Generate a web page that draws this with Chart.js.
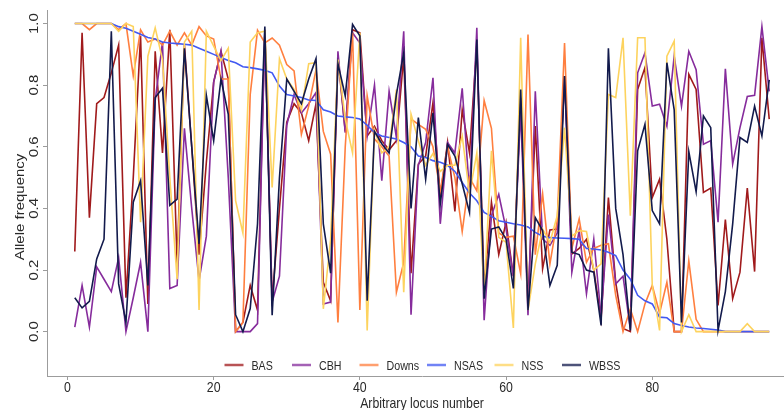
<!DOCTYPE html>
<html>
<head>
<meta charset="utf-8">
<script src="https://cdn.jsdelivr.net/npm/chart.js@4.4.1/dist/chart.umd.min.js"></script>
<style>
  html, body { margin: 0; padding: 0; background: #fff; overflow: hidden; }
  #wrap { width: 800px; height: 410px; }
</style>
</head>
<body>
<div id="wrap"><canvas id="freqChart" width="800" height="410"></canvas></div>
<script>
// locus index along the x axis
const loci = Array.from({ length: 96 }, (_, i) => i + 1);

const populations = ['BAS', 'CBH', 'Downs', 'NSAS', 'NSS', 'WBSS'];
const lineColors = ['#a01a1c', '#862c9c', '#ff7f3f', '#4259f2', '#fdd35e', '#121a4c'];

const basFreq = [0.26,0.97,0.37,0.74,0.76,0.84,0.93,0.11,0.5,0.96, 0.09,0.91,0.58,0.98,0.22,0.93,0.6,0.25,0.55,0.81,
  0.91,0.82,0.0,0.03,0.15,0.07,0.98,0.1,0.4,0.68, 0.74,0.71,0.62,0.74,0.16,0.1,0.89,0.65,0.98,0.97,
  0.635,0.667,0.62,0.59,0.62,0.894,0.19,0.544,0.57,0.743, 0.44,0.614,0.39,0.72,0.58,0.93,0.14,0.42,0.25,0.355,
  0.18,0.76,0.09,0.667,0.204,0.33,0.333,0.83,0.252,0.27, 0.3,0.2,0.04,0.435,0.16,0.01,0.0,0.786,0.857,0.435,
  0.495,0.30,0.0,0.0,0.835,0.786,0.452,0.466,0.085,0.364, 0.107,0.193,0.466,0.195,0.954,0.69];

const cbhFreq = [0.015,0.15,0.015,0.21,0.17,0.13,0.24,0.0,0.11,0.225, 0.0,0.75,0.94,0.14,0.15,0.66,0.4,0.166,0.31,0.81,
  0.91,0.5,0.0,0.0,0.0,0.026,0.97,0.096,0.18,0.67, 0.77,0.71,0.74,0.776,0.09,0.096,0.91,0.646,0.97,0.937,
  0.635,0.80,0.49,0.78,0.63,0.975,0.055,0.54,0.614,0.824, 0.35,0.614,0.58,0.79,0.45,0.986,0.037,0.376,0.446,0.333,
  0.18,0.72,0.053,0.78,0.3,0.28,0.32,0.83,0.193,0.328, 0.123,0.3,0.05,0.38,0.155,0.18,0.01,0.84,0.905,0.732,
  0.738,0.667,0.894,0.732,0.91,0.85,0.608,0.62,0.355,0.853, 0.544,0.662,0.763,0.767,0.99,0.78];

const downsFreq = [1.0,1.0,0.98,1.0,1.0,1.0,0.98,1.0,0.83,0.98, 0.94,0.95,0.93,0.975,0.93,0.97,0.93,0.99,0.96,0.95,
  0.82,0.82,0.0,0.03,0.77,0.978,0.937,0.953,0.93,0.867, 0.846,0.64,0.732,0.85,0.65,0.576,0.03,0.6,0.97,0.07,
  0.765,0.625,0.6,0.57,0.128,0.225,0.69,0.673,0.657,0.60, 0.457,0.6,0.5,0.325,0.5,0.457,0.75,0.66,0.32,0.306,
  0.31,0.188,0.964,0.25,0.447,0.22,0.36,0.937,0.27,0.366, 0.225,0.27,0.28,0.285,0.118,0.0,0.074,0.0,0.09,0.15,
  0.06,0.16,0.0,0.0,0.23,0.04,0.0,0.0,0.0,0.0, 0.0,0.0,0.0,0.0,0.0,0.0];

const nsasFreq = [1.0,1.0,1.0,1.0,1.0,1.0,0.99,0.985,0.975,0.965, 0.955,0.95,0.94,0.937,0.935,0.933,0.93,0.92,0.91,0.9,
  0.89,0.88,0.873,0.86,0.857,0.853,0.848,0.84,0.797,0.77, 0.765,0.76,0.752,0.75,0.72,0.713,0.70,0.697,0.695,0.69,
  0.67,0.646,0.635,0.63,0.625,0.614,0.6,0.57,0.565,0.555, 0.55,0.54,0.52,0.484,0.45,0.425,0.387,0.374,0.36,0.355,
  0.35,0.346,0.34,0.322,0.31,0.305,0.304,0.303,0.302,0.3, 0.27,0.268,0.265,0.258,0.247,0.2,0.17,0.118,0.1,0.09,
  0.047,0.045,0.026,0.02,0.015,0.012,0.01,0.008,0.005,0.0, 0.0,0.0,0.0,0.0,0.0,0.0];

const nssFreq = [1.0,1.0,1.0,1.0,1.0,1.0,0.975,1.0,0.99,0.355, 0.894,0.986,0.883,0.5,0.17,0.94,0.975,0.07,0.975,0.927,
  0.88,0.92,0.425,0.32,0.94,0.97,0.975,0.468,0.886,0.82, 0.786,0.72,0.87,0.873,0.074,0.3,0.883,0.69,0.58,0.97,
  0.004,0.655,0.58,0.6,0.786,0.128,0.706,0.62,0.54,0.578, 0.52,0.54,0.54,0.635,0.447,0.58,0.128,0.587,0.306,0.29,
  0.012,0.954,0.07,0.22,0.333,0.29,0.376,0.662,0.31,0.328, 0.325,0.2,0.22,0.77,0.76,0.954,0.376,0.954,0.954,0.15,
  0.004,0.894,0.943,0.0,0.055,0.0,0.0,0.0,0.0,0.0, 0.0,0.0,0.026,0.0,0.0,0.0];

const wbssFreq = [0.11,0.077,0.098,0.236,0.30,0.975,0.155,0.03,0.42,0.49, 0.15,0.76,0.79,0.41,0.43,0.92,0.6,0.285,0.767,0.62,
  0.82,0.705,0.055,0.0,0.075,0.35,0.99,0.053,0.5,0.82, 0.78,0.74,0.82,0.886,0.35,0.19,0.87,0.765,0.997,0.96,
  0.10,0.65,0.61,0.58,0.77,0.905,0.40,0.695,0.495,0.71, 0.414,0.608,0.57,0.48,0.387,0.948,0.107,0.333,0.34,0.30,
  0.14,0.786,0.07,0.37,0.328,0.15,0.215,0.83,0.258,0.25, 0.2,0.193,0.02,0.92,0.4,0.25,0.004,0.587,0.673,0.393,
  0.35,0.873,0.72,0.03,0.584,0.454,0.70,0.662,0.004,0.13, 0.35,0.63,0.614,0.732,0.635,0.817];

const freqs = [basFreq, cbhFreq, downsFreq, nsasFreq, nssFreq, wbssFreq];

const xTicks = [0, 20, 40, 60, 80];
const yTicks = [0, 0.2, 0.4, 0.6, 0.8, 1.0];

const axisGrey = '#9c9c9c';
const textCol = '#2a2a2a';
const squeeze = 0.82;

function flatText(ctx, text, x, y) {
  ctx.save();
  ctx.translate(x, y);
  ctx.scale(squeeze, 1);
  ctx.fillText(text, 0, 0);
  ctx.restore();
}

function upText(ctx, text, x, y) {
  ctx.save();
  ctx.translate(x, y);
  ctx.scale(squeeze, 1);
  ctx.rotate(-Math.PI / 2);
  ctx.fillText(text, 0, 0);
  ctx.restore();
}

// axis labels, titles and the in-plot legend
const decorations = {
  id: 'decorations',
  afterDraw(chart) {
    const { ctx, chartArea, scales } = chart;
    ctx.save();
    ctx.fillStyle = textCol;
    ctx.textAlign = 'center';
    ctx.textBaseline = 'alphabetic';
    ctx.font = '15px "Liberation Sans", Arial, sans-serif';

    xTicks.forEach(v => flatText(ctx, String(v), scales.x.getPixelForValue(v), 392));
    yTicks.forEach(v => upText(ctx, v.toFixed(1), 38, scales.y.getPixelForValue(v)));

    const midX = (chartArea.left + chartArea.right) / 2;
    flatText(ctx, 'Arbitrary locus number', midX, 408);
    upText(ctx, 'Allele frequency', 24, 207);

    // horizontal legend, equal slots
    const slot = 67.5;
    const startX = midX - slot * populations.length / 2 + 5;
    ctx.font = '13px "Liberation Sans", Arial, sans-serif';
    ctx.textAlign = 'left';
    populations.forEach((name, i) => {
      const x0 = startX + i * slot;
      ctx.save();
      ctx.globalAlpha = 0.75;
      ctx.strokeStyle = lineColors[i];
      ctx.lineWidth = 2.5;
      ctx.beginPath();
      ctx.moveTo(x0, 365);
      ctx.lineTo(x0 + 19, 365);
      ctx.stroke();
      ctx.restore();
      flatText(ctx, name, x0 + 27, 370);
    });
    ctx.restore();
  }
};

const datasets = populations.map((name, i) => ({
  label: name,
  data: loci.map((x, j) => ({ x: x, y: freqs[i][j] })),
  borderColor: lineColors[i],
  borderWidth: 1.6,
  pointRadius: 0,
  tension: 0,
  fill: false,
  order: populations.length - i
}));

new Chart(document.getElementById('freqChart'), {
  type: 'line',
  data: { datasets: datasets },
  options: {
    responsive: false,
    animation: false,
    layout: { autoPadding: false, padding: { left: 0, right: 3, top: 10, bottom: 0 } },
    plugins: { legend: { display: false }, tooltip: { enabled: false } },
    scales: {
      x: {
        type: 'linear',
        min: -2.8,
        max: 99.8,
        afterFit: s => { s.height = 34; },
        ticks: { display: false, stepSize: 20, includeBounds: false },
        grid: { drawOnChartArea: false, drawTicks: true, tickLength: 4, color: axisGrey },
        border: { display: true, color: axisGrey, width: 1 }
      },
      y: {
        min: -0.144,
        max: 1.044,
        afterFit: s => { s.width = 47; },
        ticks: { display: false, stepSize: 0.2, includeBounds: false },
        grid: { drawOnChartArea: false, drawTicks: true, tickLength: 4, color: axisGrey },
        border: { display: true, color: axisGrey, width: 1 }
      }
    }
  },
  plugins: [decorations]
});
</script>
</body>
</html>
